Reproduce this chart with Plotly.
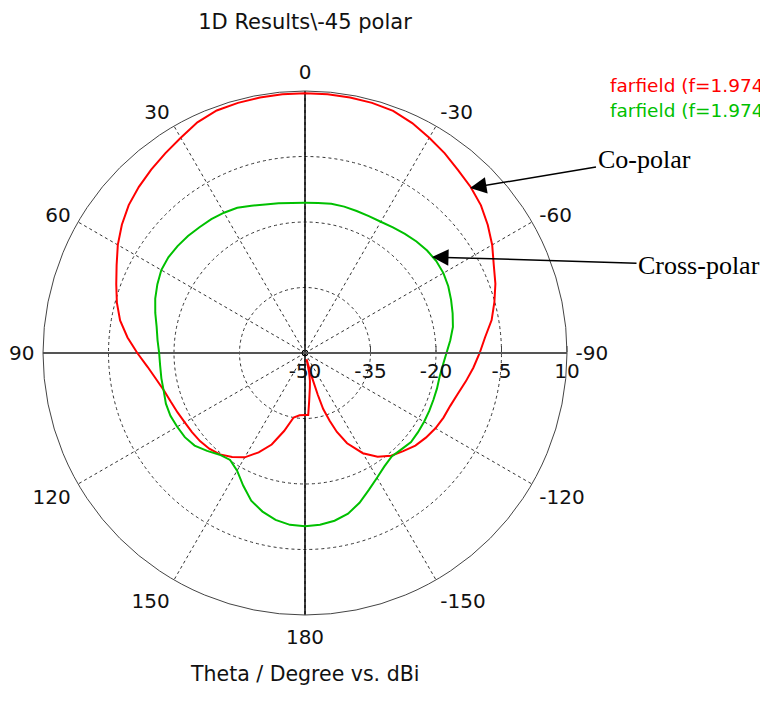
import plotly.graph_objects as go

# ---------------- data ----------------
angle_ticks = [0, 30, 60, 90, 120, 150, 180, 210, 240, 270, 300, 330]
angle_labels = ["0", "30", "60", "90", "120", "150", "180", "-150", "-120", "-90", "-60", "-30"]
radial_ticks = [-50, -35, -20, -5, 10]
radial_labels = ["-50", "-35", "-20", "-5", "10"]

# Co-polar (red), theta in degrees, gain in dBi
co_theta = [-180, -177, -175, -172, -170, -168, -166, -165, -164, -163, -162, -160, -158, -155,
            -150, -145, -140, -135, -130, -125, -120, -115, -110, -105, -100, -95, -90,
            -85, -80, -75, -70, -65, -60, -55, -50, -45, -40, -35, -30, -25, -20, -15,
            -10, -5, 0, 5, 10, 15, 20, 25, 30, 35, 40, 45, 50, 55, 60, 65, 70, 75, 80,
            85, 90, 95, 100, 105, 110, 115, 120, 125, 130, 135, 140, 145, 150, 155, 160,
            165, 170, 175, 180]
co_db = [-35.8, -35.8, -39.0, -42.0, -43.5, -45.5, -48.5, -47.0, -44.0, -40.0, -36.5, -33.5, -30.5, -27.2,
         -23.5, -21.0, -19.3, -18.2, -17.0, -16.2, -15.5, -15.0, -14.6, -13.8, -12.6, -11.3, -10.0,
         -8.6, -6.6, -5.1, -3.6, -2.3, -0.5, 1.1, 2.6, 3.7, 4.6, 5.8, 6.9, 8.1, 9.0, 9.3,
         9.4, 9.5, 9.5, 9.5, 9.4, 9.3, 9.1, 8.3, 6.9, 5.8, 4.8, 3.8, 2.7, 1.2, -0.5, -2.4, -4.0, -5.4, -7.0,
         -9.2, -11.6, -13.8, -15.4, -16.6, -17.3, -17.8, -18.2, -18.4, -18.6, -19.0, -19.7, -20.9, -22.4, -24.9, -27.7,
         -31.5, -35.0, -35.7, -35.8]

# Cross-polar (green)
cx_theta = [-180, -175, -170, -165, -160, -155, -150, -145, -140, -135, -130, -125, -120,
            -115, -110, -105, -100, -95, -90, -85, -80, -75, -70, -65, -60, -55, -50, -45,
            -40, -35, -30, -25, -20, -15, -10, -5, 0, 5, 10, 15, 20, 25, 30, 35, 40, 45,
            50, 55, 60, 65, 70, 75, 80, 85, 90, 95, 100, 105, 110, 115, 120, 125, 130, 135,
            140, 145, 150, 155, 160, 165, 170, 175, 180]
cx_db = [-10.3, -10.5, -11.0, -11.9, -13.5, -15.4, -17.0, -18.3, -19.1, -18.8, -18.3, -18.4, -18.5,
         -18.6, -18.7, -18.7, -18.7, -18.3, -17.6, -16.6, -15.6, -15.0, -14.4, -13.8, -13.4, -13.3, -13.5, -13.9,
         -14.4, -14.9, -15.3, -15.4, -15.4, -15.3, -15.3, -15.5, -15.6, -15.5, -15.2, -14.8, -14.1, -13.3, -12.9, -12.6, -12.4, -12.1,
         -11.9, -11.8, -12.0, -12.7, -13.5, -14.5, -15.5, -16.1, -16.6, -16.7, -16.6, -16.5, -16.1, -16.0, -16.2, -16.4, -17.0, -18.3,
         -19.6, -20.1, -18.9, -16.5, -14.0, -12.4, -11.2, -10.5, -10.3]

r_min, r_max = -50, 10

# The page body has an 8px margin, so the figure is drawn 8px in from the top-left.
OFF = 8
W, H = 768 - OFF, 702 - OFF
cx_px, cy_px, rad_px = 305, 353, 262   # target positions in the 768x702 screenshot


def px(x):
    return (x - OFF) / W


def py(y):
    return 1 - (y - OFF) / H


fig = go.Figure()

# solid cross-hair through the centre
fig.add_trace(go.Scatterpolar(r=[r_max, r_max], theta=[0, 180], mode="lines",
                              line=dict(color="black", width=1.5), hoverinfo="skip", showlegend=False))
fig.add_trace(go.Scatterpolar(r=[r_max, r_max], theta=[90, 270], mode="lines",
                              line=dict(color="#555555", width=2), hoverinfo="skip", showlegend=False))

fig.add_trace(go.Scatterpolar(r=co_db, theta=co_theta, mode="lines", name="farfield co",
                              line=dict(color="#FF0000", width=2), showlegend=False))
fig.add_trace(go.Scatterpolar(r=cx_db, theta=cx_theta, mode="lines", name="farfield cross",
                              line=dict(color="#00C000", width=2), showlegend=False))

# small centre marker
fig.add_trace(go.Scatterpolar(r=[r_min], theta=[0], mode="markers",
                              marker=dict(symbol="circle-open", size=6, color="black", line=dict(width=1)),
                              hoverinfo="skip", showlegend=False))

tick_font = dict(family="DejaVu Sans", size=20, color="#111111")

fig.update_layout(
    width=W, height=H,
    margin=dict(l=0, r=0, t=0, b=0),
    paper_bgcolor="white",
    showlegend=False,
    polar=dict(
        domain=dict(x=[px(cx_px - rad_px), px(cx_px + rad_px)],
                    y=[py(cy_px + rad_px), py(cy_px - rad_px)]),
        bgcolor="white",
        angularaxis=dict(
            rotation=90, direction="counterclockwise",
            tickmode="array", tickvals=angle_ticks, ticktext=angle_labels,
            tickfont=tick_font, ticks="outside", ticklen=4, tickcolor="rgba(0,0,0,0)",
            showline=True, linecolor="#444444", linewidth=1,
            showgrid=True, gridcolor="#333333", gridwidth=1, griddash="3px,3px",
        ),
        radialaxis=dict(
            range=[r_min, r_max], angle=0, side="clockwise",
            tickmode="array", tickvals=radial_ticks, ticktext=radial_labels,
            tickfont=tick_font, ticks="inside", ticklen=6, tickcolor="#444444",
            showline=True, linecolor="#555555", linewidth=2,
            showgrid=True, gridcolor="#333333", gridwidth=1, griddash="3px,3px",
        ),
    ),
    title=dict(text="1D Results\\-45 polar", x=px(305), y=py(22), xanchor="center", yanchor="middle",
               font=dict(family="DejaVu Sans", size=21, color="#111111")),
)

ann = []
ann.append(dict(text="Theta / Degree vs. dBi", x=px(304), y=py(688), xref="paper", yref="paper",
                showarrow=False, font=dict(family="DejaVu Sans", size=20.5, color="#111111")))
ann.append(dict(text="farfield (f=1.974", x=px(608), y=py(85), xref="paper", yref="paper",
                xanchor="left", yanchor="middle", showarrow=False,
                font=dict(family="DejaVu Sans", size=18.5, color="#FF0000")))
ann.append(dict(text="farfield (f=1.974", x=px(608), y=py(110), xref="paper", yref="paper",
                xanchor="left", yanchor="middle", showarrow=False,
                font=dict(family="DejaVu Sans", size=18.5, color="#00C000")))
ann.append(dict(text="Co-polar", x=px(470), y=py(188), xref="paper", yref="paper",
                ax=174, ay=-29, showarrow=True, arrowhead=2, arrowsize=2.2, arrowwidth=1.5,
                arrowcolor="black", standoff=0,
                font=dict(family="Liberation Serif", size=26, color="black")))
ann.append(dict(text="Cross-polar", x=px(432), y=py(257), xref="paper", yref="paper",
                ax=267, ay=8, showarrow=True, arrowhead=2, arrowsize=2.2, arrowwidth=1.5,
                arrowcolor="black", standoff=0,
                font=dict(family="Liberation Serif", size=26, color="black")))
fig.update_layout(annotations=ann)

fig.write_html("out.html")
